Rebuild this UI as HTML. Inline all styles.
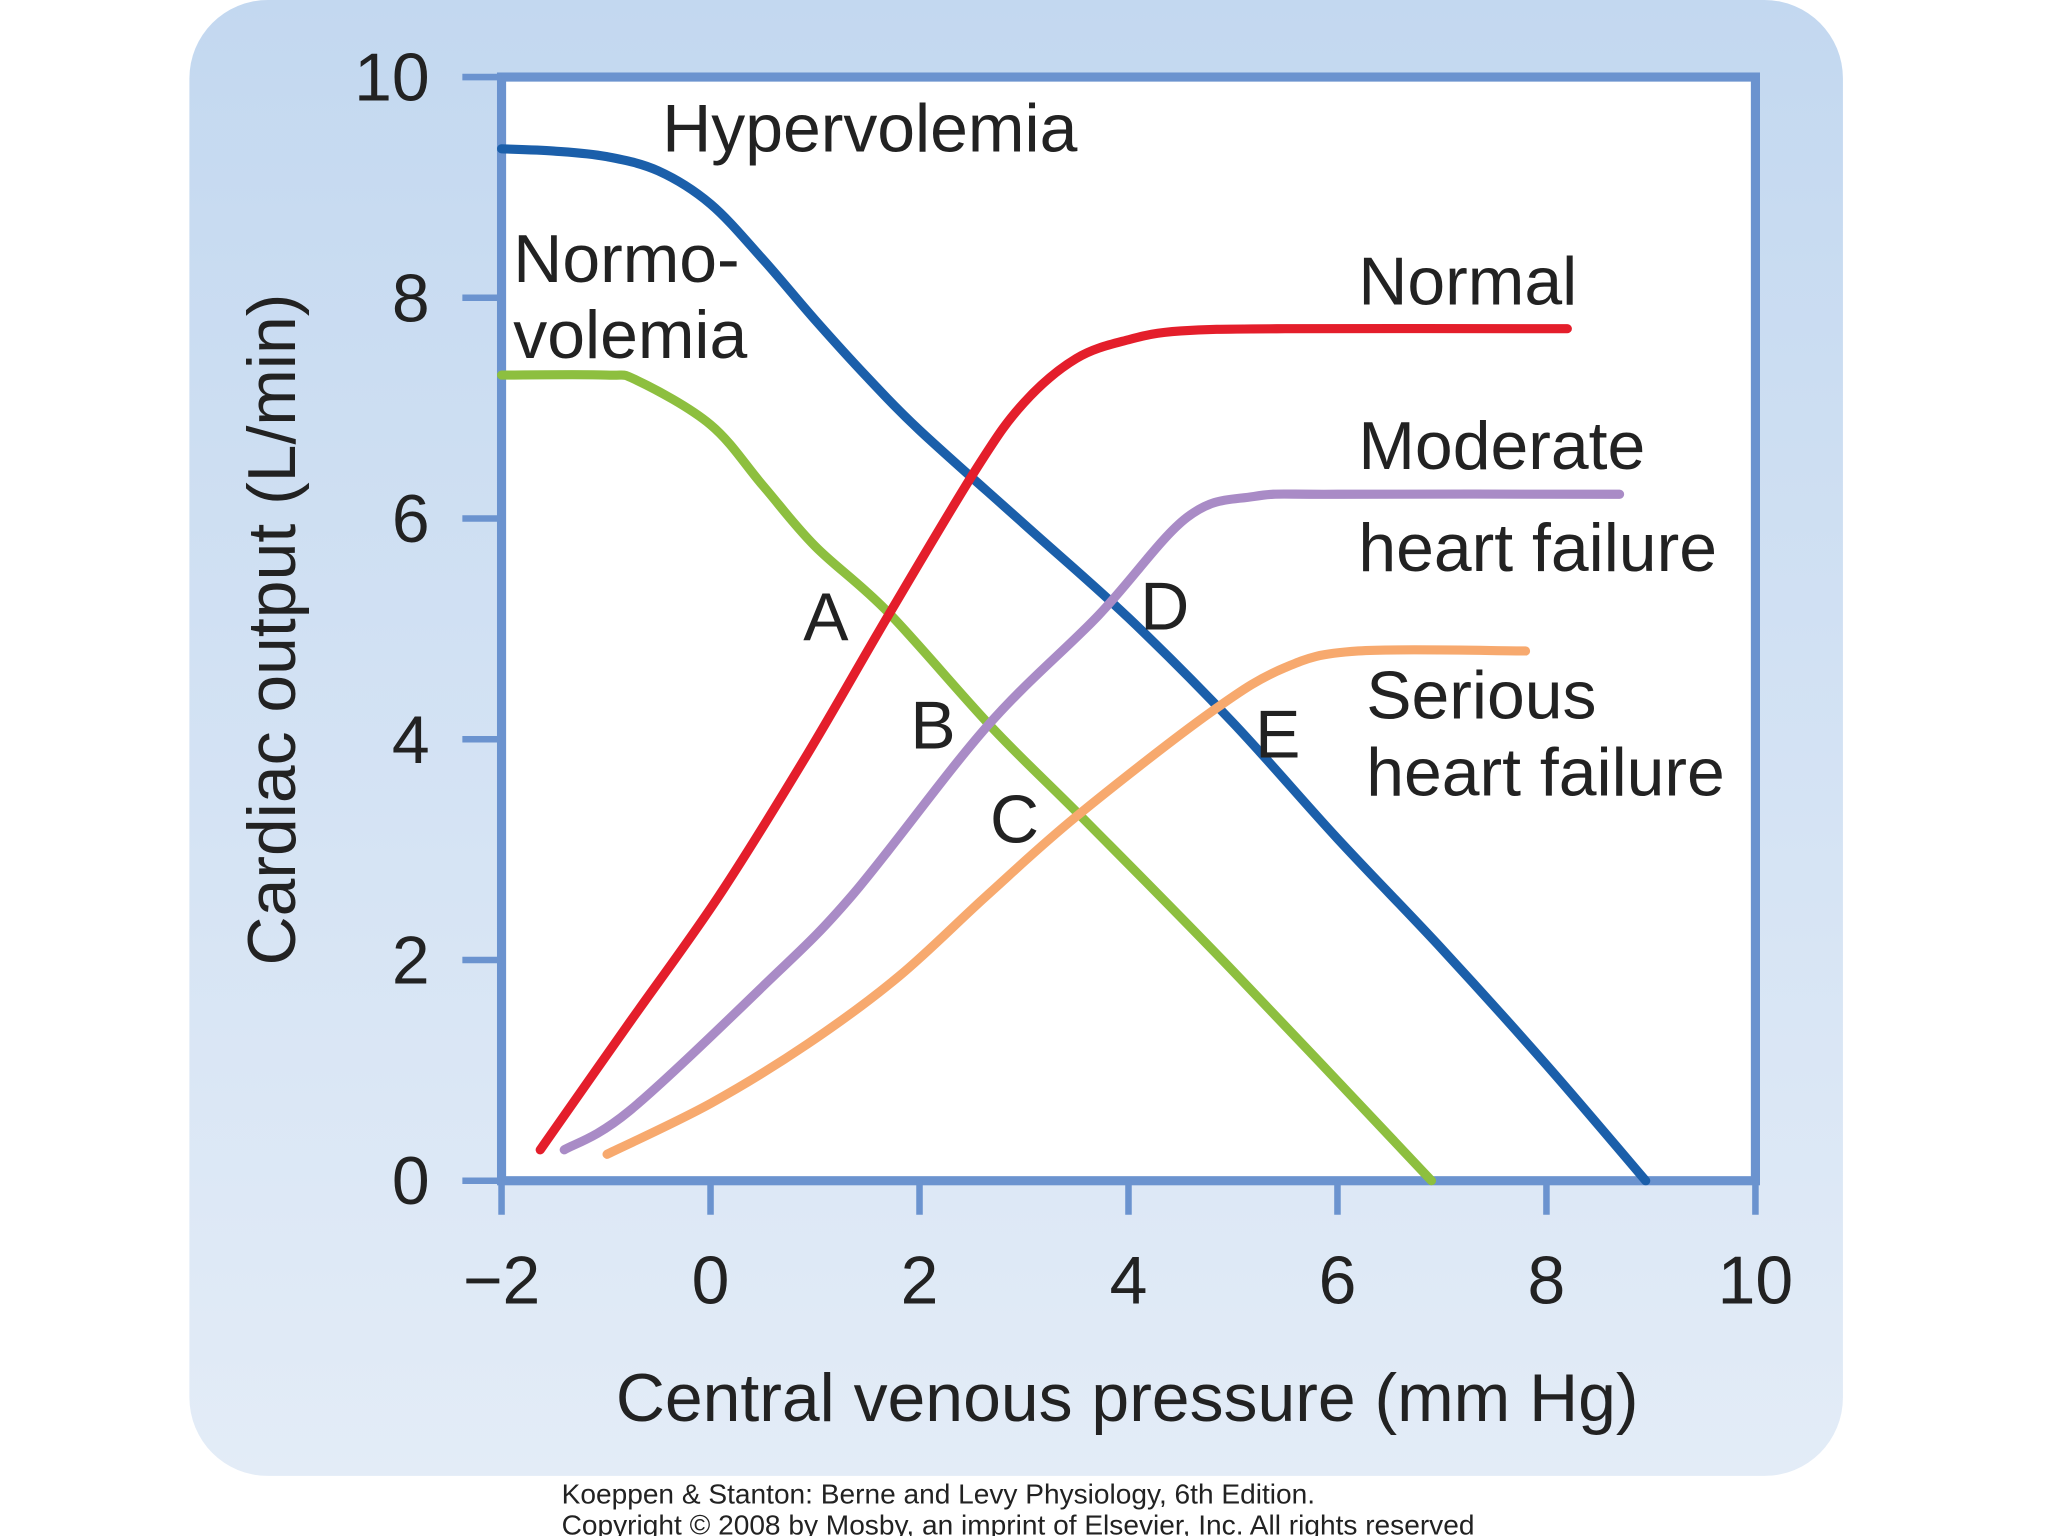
<!DOCTYPE html>
<html><head><meta charset="utf-8"><style>
html,body{margin:0;padding:0;background:#fff;}
svg{display:block;font-family:"Liberation Sans",Arial,sans-serif;}
</style></head><body>
<svg id="chart" width="2048" height="1536" viewBox="0 0 1568 1176" xmlns="http://www.w3.org/2000/svg">
<defs><linearGradient id="bg" x1="0" y1="0" x2="0" y2="1"><stop offset="0" stop-color="#c3d8f0"/><stop offset="1" stop-color="#e3ecf7"/></linearGradient></defs>
<rect x="145" y="0" width="1266" height="1130" rx="60" fill="url(#bg)"/>
<rect x="384" y="59" width="960" height="845" fill="#fff" stroke="#6b93cf" stroke-width="7"/>
<g id="ticks"></g>
<g id="curves" fill="none" stroke-width="7" stroke-linecap="round"></g>
<g font-size="52" fill="#222">
<text x="507" y="116">Hypervolemia</text>
<text x="393" y="216">Normo-</text>
<text x="393" y="274">volemia</text>
<text x="1040" y="233">Normal</text>
<text x="1040" y="359">Moderate</text>
<text x="1040" y="437">heart failure</text>
<text x="1046" y="550">Serious</text>
<text x="1046" y="609">heart failure</text>
<text x="615" y="490">A</text>
<text x="697" y="573">B</text>
<text x="758" y="645">C</text>
<text x="873" y="482">D</text>
<text x="961" y="580">E</text>
<text x="863" y="1088" text-anchor="middle">Central venous pressure (mm Hg)</text>
<text transform="translate(226,482) rotate(-90)" text-anchor="middle">Cardiac output (L/min)</text>
</g>
<text x="430" y="1151" font-size="21.5" fill="#222">Koeppen &amp; Stanton: Berne and Levy Physiology, 6th Edition.</text>
<text x="430" y="1175" font-size="21.5" fill="#222">Copyright © 2008 by Mosby, an imprint of Elsevier, Inc. All rights reserved</text>
</svg>
<script>
const xTicks=[-2,0,2,4,6,8,10];
const yTicks=[0,2,4,6,8,10];
const hyperX=[-2,-1.5,-1,-0.5,0,0.5,1,1.5,2,3,4,5,6,7,8,8.95];
const hyperY=[9.35,9.33,9.28,9.15,8.85,8.35,7.8,7.28,6.8,5.95,5.1,4.15,3.1,2.1,1.05,0];
const normoX=[-2,-1,-0.7,0,0.5,1,1.7,2.7,3.6,5,6.9];
const normoY=[7.3,7.3,7.25,6.85,6.3,5.75,5.15,4.1,3.25,1.9,0];
const normalX=[-1.63,-0.8,0.08,0.93,1.7,2.55,3,3.5,4,4.5,5.5,8.2];
const normalY=[0.28,1.4,2.58,3.87,5.12,6.46,7.05,7.45,7.62,7.7,7.72,7.72];
const moderateX=[-1.4,-0.78,0.5,1.35,2.64,3.71,4.56,5.2,6,8.7];
const moderateY=[0.28,0.63,1.76,2.58,4.11,5.12,6.01,6.2,6.22,6.22];
const seriousX=[-0.99,0,0.93,1.8,2.64,3.5,4.78,5.5,6.2,7.8];
const seriousY=[0.24,0.7,1.24,1.85,2.58,3.3,4.24,4.65,4.8,4.8];
const sx=v=>384+(v+2)*80, sy=v=>904-v*84.5;
const NS="http://www.w3.org/2000/svg";
const tg=document.getElementById('ticks');
function mk(tag,attrs,parent){const e=document.createElementNS(NS,tag);for(const k in attrs)e.setAttribute(k,attrs[k]);parent.appendChild(e);return e;}
xTicks.forEach(t=>{
  const l=mk('line',{x1:sx(t),x2:sx(t),y1:904,y2:930,stroke:'#6b93cf','stroke-width':5},tg);
  
  
  const tx=mk('text',{x:sx(t),y:998,'text-anchor':'middle','font-size':52,fill:'#222'},tg);
  tx.textContent=t<0?'\u2212'+(-t):String(t);
  
  
});
yTicks.forEach(t=>{
  const l=mk('line',{x1:354,x2:384,y1:sy(t),y2:sy(t),stroke:'#6b93cf','stroke-width':5},tg);
  
  
  const tx=mk('text',{x:329,y:sy(t)+18,'text-anchor':'end','font-size':52,fill:'#222'},tg);
  tx.textContent=String(t);
  
  
});
function path(xs,ys){
  const p=xs.map((x,i)=>[sx(x),sy(ys[i])]);
  let d='M'+p[0][0]+','+p[0][1];
  for(let i=0;i<p.length-1;i++){
    const p0=p[i-1]||p[i],p1=p[i],p2=p[i+1],p3=p[i+2]||p2;
    const c1=[p1[0]+(p2[0]-p0[0])/6,p1[1]+(p2[1]-p0[1])/6];
    const c2=[p2[0]-(p3[0]-p1[0])/6,p2[1]-(p3[1]-p1[1])/6];
    d+=' C'+c1+' '+c2+' '+p2;
  }
  return d;
}
const cg=document.getElementById('curves');
const h=mk('path',{d:path(hyperX,hyperY),stroke:'#1b5faa'},cg);


const n=mk('path',{d:path(normoX,normoY),stroke:'#8dbf3f'},cg);


const r=mk('path',{d:path(normalX,normalY),stroke:'#e41e2b'},cg);


const m=mk('path',{d:path(moderateX,moderateY),stroke:'#a98bc6'},cg);


const s=mk('path',{d:path(seriousX,seriousY),stroke:'#f7a96e'},cg);


</script>
</body></html>
